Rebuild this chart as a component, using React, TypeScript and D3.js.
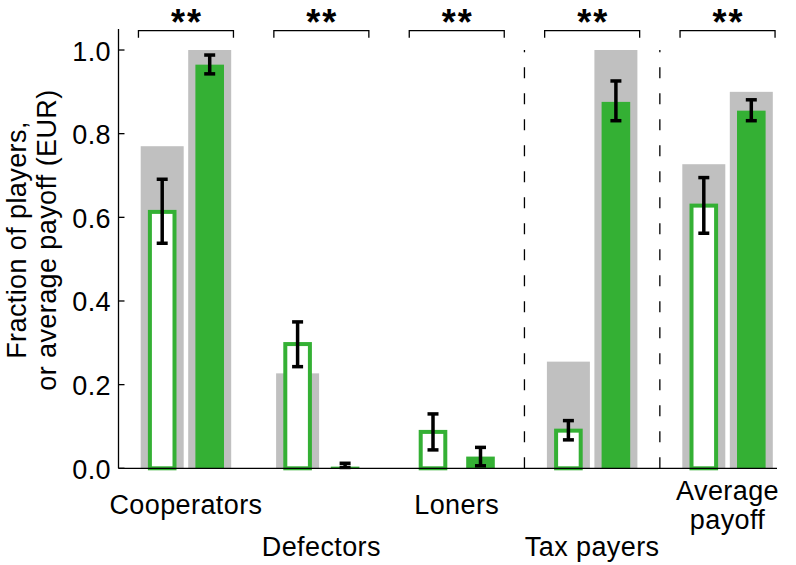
import React from "react";
import * as d3 from "d3";

// ---- data ----
const categories = ["Cooperators", "Defectors", "Loners", "Tax payers", "Average payoff"];
const categoryLines = [["Cooperators"], ["Defectors"], ["Loners"], ["Tax payers"], ["Average", "payoff"]];
const refControl = [0.77, 0.227, 0, 0.255, 0.727];
const refTreatment = [1.0, 0, 0, 1.0, 0.9];
const controlMean = [0.613, 0.297, 0.087, 0.09, 0.628];
const controlLow = [0.538, 0.243, 0.044, 0.068, 0.562];
const controlHigh = [0.691, 0.35, 0.13, 0.114, 0.695];
const treatMean = [0.965, 0.004, 0.028, 0.876, 0.855];
const treatLow = [0.943, 0.002, 0.006, 0.831, 0.831];
const treatHigh = [0.988, 0.012, 0.05, 0.926, 0.881];
const significance = ["**", "**", "**", "**", "**"];
const yTicks = [0, 0.2, 0.4, 0.6, 0.8, 1.0];
const separators = ["Tax payers", "Average payoff"];

const W = 796;
const H = 565;
const GREEN = "#34b034";
const GRAY = "#c0c0c0";
const FONT = "'Liberation Sans', Arial, Helvetica, sans-serif";
const FS = 27;
const LS = 0.4;

export default function App() {
  const y = d3.scaleLinear().domain([0, 1.05]).range([468.3, 29.1]);
  const x = d3.scaleBand().domain(categories).range([118.25, 795.25]);
  const inner = d3.scaleBand().domain(["control", "treatment"]).range([-47.5, 47.5]);
  const axisX = 118.5;
  const plotRight = 777;
  const grayW = 43;
  const greenW = 28.6;
  const capW = 11;

  const gc = (c: string) => (x(c) as number) + x.bandwidth() / 2;
  const sc = (c: string, k: string) => gc(c) + (inner(k) as number) + inner.bandwidth() / 2;

  return (
    <svg
      width={W}
      height={H}
      style={{ position: "absolute", left: 0, top: 0, background: "#fff" }}
      fontFamily={FONT}
    >
      <rect x={0} y={0} width={W} height={H} fill="#fff" />
      {/* gray reference bars */}
      {categories.map((c, i) => (
        <g key={"g" + c}>
          {refControl[i] > 0 && (
            <rect x={sc(c, "control") - grayW / 2} y={y(refControl[i])} width={grayW} height={y(0) - y(refControl[i])} fill={GRAY} />
          )}
          {refTreatment[i] > 0 && (
            <rect x={sc(c, "treatment") - grayW / 2} y={y(refTreatment[i])} width={grayW} height={y(0) - y(refTreatment[i])} fill={GRAY} />
          )}
        </g>
      ))}
      {/* green bars */}
      {categories.map((c, i) => (
        <g key={"b" + c}>
          <rect
            x={sc(c, "control") - greenW / 2 + 2}
            y={y(controlMean[i])}
            width={greenW - 4}
            height={y(0) - y(controlMean[i])}
            fill="#fff"
            stroke={GREEN}
            strokeWidth={4}
          />
          <rect
            x={sc(c, "treatment") - greenW / 2}
            y={y(treatMean[i])}
            width={greenW}
            height={y(0) - y(treatMean[i])}
            fill={GREEN}
          />
        </g>
      ))}
      {/* error bars */}
      {categories.map((c, i) => {
        const items = [
          { cx: sc(c, "control"), lo: controlLow[i], hi: controlHigh[i] },
          { cx: sc(c, "treatment"), lo: treatLow[i], hi: treatHigh[i] },
        ];
        return (
          <g key={"e" + c} stroke="#000" strokeWidth={3.5}>
            {items.map((e, j) => (
              <g key={j}>
                <line x1={e.cx} x2={e.cx} y1={y(e.lo)} y2={y(e.hi)} />
                <line x1={e.cx - capW / 2} x2={e.cx + capW / 2} y1={y(e.lo)} y2={y(e.lo)} />
                <line x1={e.cx - capW / 2} x2={e.cx + capW / 2} y1={y(e.hi)} y2={y(e.hi)} />
              </g>
            ))}
          </g>
        );
      })}
      {/* dashed separators */}
      {separators.map((s) => (
        <line
          key={"s" + s}
          x1={x(s) as number}
          x2={x(s) as number}
          y1={y(0)}
          y2={y(1)}
          stroke="#000"
          strokeWidth={1.3}
          strokeDasharray="11,15"
        />
      ))}
      {/* axes */}
      <line x1={axisX} x2={axisX} y1={y(1.05)} y2={y(0)} stroke="#000" strokeWidth={1.3} />
      <line x1={axisX} x2={plotRight} y1={y(0)} y2={y(0)} stroke="#000" strokeWidth={1.3} />
      {yTicks.map((t) => (
        <g key={"t" + t}>
          <line x1={axisX} x2={axisX + 6} y1={y(t)} y2={y(t)} stroke="#000" strokeWidth={1.3} />
          <text x={111} y={y(t) + 10.5} textAnchor="end" fontSize={FS} letterSpacing={LS}>
            {d3.format(".1f")(t)}
          </text>
        </g>
      ))}
      {/* significance brackets */}
      {categories.map((c, i) => {
        const l = gc(c) - 47.5;
        const r = gc(c) + 47.5;
        const by = 30.7;
        return (
          <g key={"k" + c}>
            <path d={`M${l},${by + 7}V${by}H${r}V${by + 7}`} fill="none" stroke="#000" strokeWidth={1.3} />
            <text x={gc(c) + 1} y={35} textAnchor="middle" fontSize={36} fontWeight="bold" letterSpacing={2}>
              {significance[i]}
            </text>
          </g>
        );
      })}
      {/* category labels */}
      {categories.map((c, i) => {
        const lines = categoryLines[i];
        const base = lines.length > 1 ? 500 : i % 2 === 0 ? 514 : 556;
        return (
          <text key={"c" + c} textAnchor="middle" fontSize={FS} letterSpacing={LS}>
            {lines.map((ln, j) => (
              <tspan key={j} x={gc(c)} y={base + j * 28.5}>
                {ln}
              </tspan>
            ))}
          </text>
        );
      })}
      {/* y axis title */}
      <text transform="translate(25.5,240) rotate(-90)" textAnchor="middle" fontSize={FS} letterSpacing={LS}>
        Fraction of players,
      </text>
      <text transform="translate(55.5,240) rotate(-90)" textAnchor="middle" fontSize={FS} letterSpacing={LS}>
        or average payoff (EUR)
      </text>
    </svg>
  );
}
